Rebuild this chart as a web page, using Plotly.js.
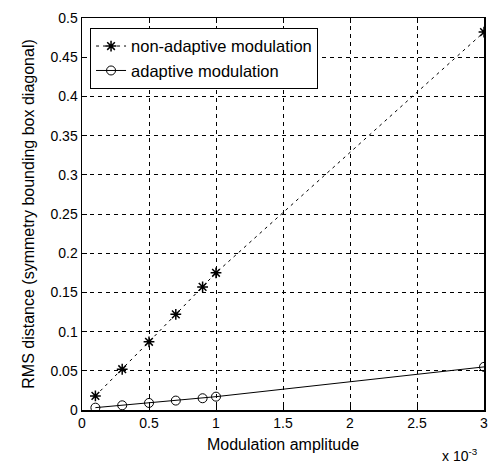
<!DOCTYPE html>
<html><head><meta charset="utf-8">
<script src="https://cdn.plot.ly/plotly-3.0.1.min.js"></script>
<style>html,body{margin:0;padding:0;background:#fff}#chart{width:489px;height:465px}</style>
</head><body><div id="chart"></div>
<script>
const amplitudes = [0.1, 0.3, 0.5, 0.7, 0.9, 1.0, 3.0];
const nonAdaptive = [0.018, 0.052, 0.087, 0.122, 0.157, 0.175, 0.482];
const adaptive = [0.003, 0.006, 0.009, 0.012, 0.015, 0.017, 0.055];
const xTicks = [0, 0.5, 1, 1.5, 2, 2.5, 3];
const xTickLabels = ['0', '0.5', '1', '1.5', '2', '2.5', '3'];
const yTicks = [0, 0.05, 0.1, 0.15, 0.2, 0.25, 0.3, 0.35, 0.4, 0.45, 0.5];
const yTickLabels = ['0', '0.05', '0.1', '0.15', '0.2', '0.25', '0.3', '0.35', '0.4', '0.45', '0.5'];

const fam = 'Liberation Sans, Arial, sans-serif';
const font = {family: fam, size: 14, color: '#000'};
const titleFont = {family: fam, size: 16, color: '#000'};
const traces = [
  {x: amplitudes, y: nonAdaptive, name: 'non-adaptive modulation', mode: 'lines+markers',
   line: {color: '#000', width: 1, dash: '3px,4px'},
   marker: {symbol: 'asterisk-open', size: 9, color: '#000', line: {color: '#000', width: 1.5}}},
  {x: amplitudes, y: adaptive, name: 'adaptive modulation', mode: 'lines+markers',
   line: {color: '#000', width: 1},
   marker: {symbol: 'circle-open', size: 9, color: '#000', line: {color: '#000', width: 1}}}
];
const axisCommon = {showline: true, linecolor: '#000', linewidth: 1.5, mirror: 'ticks', ticks: 'inside',
  ticklen: 5, tickcolor: '#000', showgrid: true, gridcolor: '#000', griddash: '4px,4px', gridwidth: 1,
  zeroline: false, tickfont: font};
const layout = {
  width: 489, height: 465, paper_bgcolor: '#fff', plot_bgcolor: '#fff', font: font,
  margin: {l: 82, r: 5, t: 18, b: 55},
  showlegend: true,
  legend: {x: 0.02, y: 0.975, xanchor: 'left', yanchor: 'top', bgcolor: '#fff', bordercolor: '#000', borderwidth: 1,
    font: {family: fam, size: 16.5, color: '#000'}, tracegroupgap: 0},
  xaxis: Object.assign({}, axisCommon, {range: [0, 3], tickvals: xTicks, ticktext: xTickLabels,
    title: {text: 'Modulation amplitude', font: titleFont, standoff: 8}}),
  yaxis: Object.assign({}, axisCommon, {range: [0, 0.5], tickvals: yTicks, ticktext: yTickLabels,
    title: {text: 'RMS distance (symmetry bounding box diagonal)', font: titleFont, standoff: 12}}),
  annotations: [{xref: 'paper', yref: 'paper', x: 0.99, y: -0.115, xanchor: 'right', yanchor: 'middle', showarrow: false,
    text: 'x 10<sup>-3</sup>', font: {family: fam, size: 14, color: '#000'}}]
};
Plotly.newPlot('chart', traces, layout, {displayModeBar: false, staticPlot: true});
</script></body></html>
